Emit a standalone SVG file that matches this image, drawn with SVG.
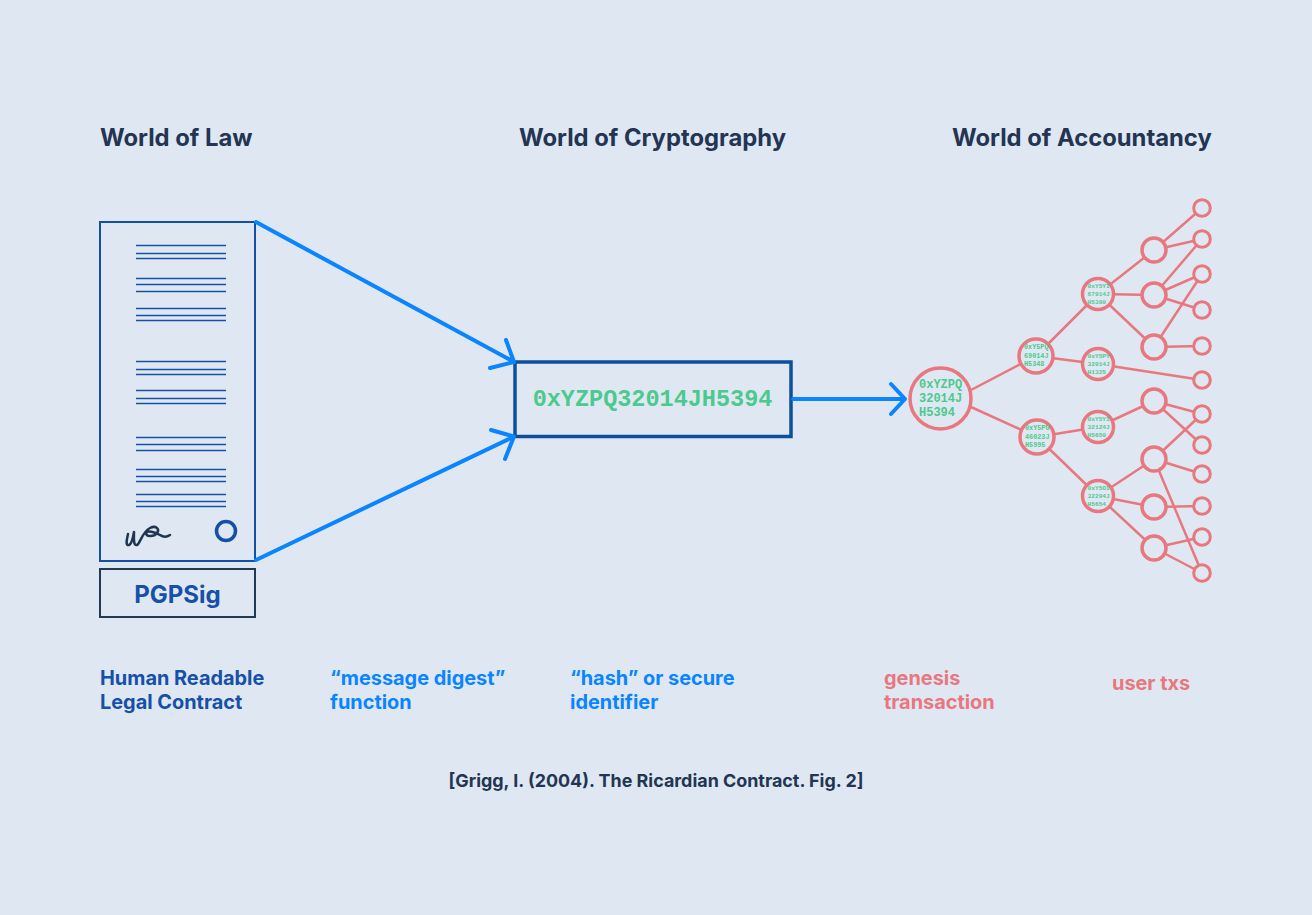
<svg xmlns="http://www.w3.org/2000/svg" width="1312" height="915" viewBox="0 0 1312 915">
<style>
.hdr{font-family:Inter,"Liberation Sans",sans-serif;font-weight:700;font-size:23.8px;fill:#233553}
.lbl{font-family:Inter,"Liberation Sans",sans-serif;font-weight:700;font-size:19.9px}
.doc{stroke:#1450a6;stroke-width:1.5}
.mono{font-family:"Liberation Mono","Courier New",monospace;font-weight:700;fill:#4cc98e}
.node{fill:#dfe8f2;stroke:#e8777f;stroke-width:3.5}
.leaf{fill:#dfe8f2;stroke:#e8777f;stroke-width:3}
.edge{stroke:#e8777f;stroke-width:2.5;fill:none}
.arr{stroke:#0a84ff;stroke-width:4;fill:none;stroke-linecap:round;stroke-linejoin:round}
</style>
<rect width="1312" height="915" fill="#dfe8f2"/>
<text class="hdr" x="100" y="146">World of Law</text>
<text class="hdr" x="519" y="146">World of Cryptography</text>
<text class="hdr" x="952" y="146">World of Accountancy</text>

<g id="contract">
<rect x="100" y="222" width="155" height="339" fill="none" stroke="#1450a6" stroke-width="2"/>
<g class="doc">
<line x1="136" x2="226" y1="245.5" y2="245.5"/><line x1="136" x2="226" y1="253.5" y2="253.5"/><line x1="136" x2="226" y1="258.5" y2="258.5"/>
<line x1="136" x2="226" y1="278.5" y2="278.5"/><line x1="136" x2="226" y1="284.5" y2="284.5"/><line x1="136" x2="226" y1="291.5" y2="291.5"/>
<line x1="136" x2="226" y1="308.5" y2="308.5"/><line x1="136" x2="226" y1="315.5" y2="315.5"/><line x1="136" x2="226" y1="320.5" y2="320.5"/>
<line x1="136" x2="226" y1="361.5" y2="361.5"/><line x1="136" x2="226" y1="369.5" y2="369.5"/><line x1="136" x2="226" y1="374.5" y2="374.5"/>
<line x1="136" x2="226" y1="390.5" y2="390.5"/><line x1="136" x2="226" y1="398.5" y2="398.5"/><line x1="136" x2="226" y1="403.5" y2="403.5"/>
<line x1="136" x2="226" y1="437.5" y2="437.5"/><line x1="136" x2="226" y1="444.5" y2="444.5"/><line x1="136" x2="226" y1="450.5" y2="450.5"/>
<line x1="136" x2="226" y1="469.5" y2="469.5"/><line x1="136" x2="226" y1="476.5" y2="476.5"/><line x1="136" x2="226" y1="481.5" y2="481.5"/>
<line x1="136" x2="226" y1="494.5" y2="494.5"/><line x1="136" x2="226" y1="501.5" y2="501.5"/><line x1="136" x2="226" y1="506.5" y2="506.5"/>
</g>
<path d="M128,534 C127,539 125,546 129,545 C132,544 133,537 134,532 C134,537 133,546 137,545 C140,544 142,532 150,528 C156,525 160,529 157,533 C154,537 146,537 146,533 C147,530 155,532 160,535 C163,537 167,537 170,535" fill="none" stroke="#1f3550" stroke-width="2.5" stroke-linecap="round" stroke-linejoin="round"/>
<circle cx="226" cy="531" r="9.5" fill="none" stroke="#1450a6" stroke-width="3.5"/>
</g>

<g id="pgpsig">
<rect x="100" y="569" width="155" height="48" fill="none" stroke="#233a57" stroke-width="2"/>
<text x="177.5" y="602.5" text-anchor="middle" class="lbl" style="font-size:24px" fill="#1650a8">PGPSig</text>
</g>

<g id="hash">
<rect x="515" y="362" width="276" height="74.5" fill="none" stroke="#0d4f9c" stroke-width="3.5"/>
<text class="mono" x="652.5" y="406" text-anchor="middle" font-size="23.5">0xYZPQ32014JH5394</text>
</g>

<g id="connectors">
<path class="arr" d="M256,222 L514,362 M490,368 L514,362 L506,340"/>
<path class="arr" d="M256,560 L514,436.5 M491,430 L514,436.5 L505,459"/>
<path class="arr" d="M793,399 L905,399 M891,384 L905,399 L891,414"/>
<g class="edge">
<line x1="971" y1="390" x2="1036" y2="356"/>
<line x1="971" y1="407" x2="1037" y2="437"/>
<line x1="1036" y1="356" x2="1098" y2="294"/>
<line x1="1036" y1="356" x2="1098" y2="364"/>
<line x1="1037" y1="437" x2="1098" y2="427"/>
<line x1="1037" y1="437" x2="1098" y2="496"/>
<line x1="1098" y1="294" x2="1154" y2="250"/>
<line x1="1098" y1="294" x2="1154" y2="295"/>
<line x1="1098" y1="294" x2="1154" y2="347"/>
<line x1="1098" y1="364" x2="1202" y2="380"/>
<line x1="1098" y1="427" x2="1154" y2="401"/>
<line x1="1098" y1="496" x2="1154" y2="459"/>
<line x1="1098" y1="496" x2="1154" y2="507"/>
<line x1="1098" y1="496" x2="1154" y2="548"/>
<line x1="1154" y1="250" x2="1202" y2="208"/>
<line x1="1154" y1="250" x2="1202" y2="239"/>
<line x1="1154" y1="295" x2="1202" y2="239"/>
<line x1="1154" y1="295" x2="1202" y2="274"/>
<line x1="1154" y1="295" x2="1202" y2="310"/>
<line x1="1154" y1="347" x2="1202" y2="274"/>
<line x1="1154" y1="347" x2="1202" y2="346"/>
<line x1="1154" y1="401" x2="1202" y2="414"/>
<line x1="1154" y1="401" x2="1202" y2="445"/>
<line x1="1154" y1="459" x2="1202" y2="414"/>
<line x1="1154" y1="459" x2="1202" y2="474"/>
<line x1="1154" y1="459" x2="1202" y2="573"/>
<line x1="1154" y1="507" x2="1202" y2="506"/>
<line x1="1154" y1="548" x2="1202" y2="537"/>
<line x1="1154" y1="548" x2="1202" y2="573"/>
</g>
</g>

<g id="genesis">
<circle cx="940.5" cy="398.5" r="30.5" class="node"/>
<text class="mono" font-size="12" x="919" y="387.5">0xYZPQ</text>
<text class="mono" font-size="12" x="919" y="401.5">32014J</text>
<text class="mono" font-size="12" x="919" y="415.5">H5394</text>
</g>

<g id="tx-l2a">
<circle cx="1036" cy="356" r="17" class="node"/>
<text class="mono" font-size="6.8"><tspan x="1024" y="349">0xY5PQ</tspan><tspan x="1024" y="357.5">69014J</tspan><tspan x="1024" y="366">H5348</tspan></text>
</g>
<g id="tx-l2b">
<circle cx="1037" cy="437" r="17" class="node"/>
<text class="mono" font-size="6.8"><tspan x="1025" y="430">0xY5PU</tspan><tspan x="1025" y="438.5">46023J</tspan><tspan x="1025" y="447">H5995</tspan></text>
</g>
<g id="tx-l3a">
<circle cx="1098" cy="294" r="15.5" class="node"/>
<text class="mono" font-size="6.2"><tspan x="1087.5" y="288">0xY5YI</tspan><tspan x="1087.5" y="296">67014J</tspan><tspan x="1087.5" y="304">H5399</tspan></text>
</g>
<g id="tx-l3b">
<circle cx="1098" cy="364" r="15.5" class="node"/>
<text class="mono" font-size="6.2"><tspan x="1087.5" y="358">0xY5PY</tspan><tspan x="1087.5" y="366">32014J</tspan><tspan x="1087.5" y="374">H1325</tspan></text>
</g>
<g id="tx-l3c">
<circle cx="1098" cy="427" r="15.5" class="node"/>
<text class="mono" font-size="6.2"><tspan x="1087.5" y="421">0xY5YI</tspan><tspan x="1087.5" y="429">32124J</tspan><tspan x="1087.5" y="437">H5659</tspan></text>
</g>
<g id="tx-l3d">
<circle cx="1098" cy="496" r="15.5" class="node"/>
<text class="mono" font-size="6.2"><tspan x="1087.5" y="490">0xY5OI</tspan><tspan x="1087.5" y="498">32294J</tspan><tspan x="1087.5" y="506">H5654</tspan></text>
</g>

<g id="tx-l4">
<circle cx="1154" cy="250" r="12" class="node"/>
<circle cx="1154" cy="295" r="12" class="node"/>
<circle cx="1154" cy="347" r="12" class="node"/>
<circle cx="1154" cy="401" r="12" class="node"/>
<circle cx="1154" cy="459" r="12" class="node"/>
<circle cx="1154" cy="507" r="12" class="node"/>
<circle cx="1154" cy="548" r="12" class="node"/>
</g>
<g id="tx-leaves">
<circle cx="1202" cy="208" r="8.3" class="leaf"/>
<circle cx="1202" cy="239" r="8.3" class="leaf"/>
<circle cx="1202" cy="274" r="8.3" class="leaf"/>
<circle cx="1202" cy="310" r="8.3" class="leaf"/>
<circle cx="1202" cy="346" r="8.3" class="leaf"/>
<circle cx="1202" cy="380" r="8.3" class="leaf"/>
<circle cx="1202" cy="414" r="8.3" class="leaf"/>
<circle cx="1202" cy="445" r="8.3" class="leaf"/>
<circle cx="1202" cy="474" r="8.3" class="leaf"/>
<circle cx="1202" cy="506" r="8.3" class="leaf"/>
<circle cx="1202" cy="537" r="8.3" class="leaf"/>
<circle cx="1202" cy="573" r="8.3" class="leaf"/>
</g>

<g id="labels">
<text class="lbl" fill="#1650a8"><tspan x="100" y="685">Human Readable</tspan><tspan x="100" y="709">Legal Contract</tspan></text>
<text class="lbl" fill="#0a84ff"><tspan x="330" y="685">“message digest”</tspan><tspan x="330" y="709">function</tspan></text>
<text class="lbl" fill="#0a84ff"><tspan x="570" y="685">“hash” or secure</tspan><tspan x="570" y="709">identifier</tspan></text>
<text class="lbl" fill="#e8777f"><tspan x="884" y="685">genesis</tspan><tspan x="884" y="709">transaction</tspan></text>
<text class="lbl" fill="#e8777f" x="1112" y="690">user txs</text>
<text class="lbl" fill="#233553" style="font-size:17.9px" x="656" y="787" text-anchor="middle">[Grigg, I. (2004). The Ricardian Contract. Fig. 2]</text>
</g>
</svg>
